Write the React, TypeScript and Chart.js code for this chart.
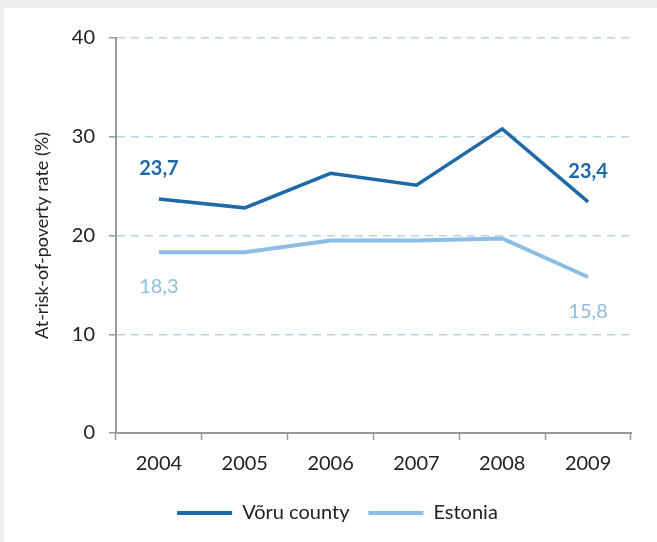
import React, { useEffect, useRef } from "react";
import { Chart, registerables } from "chart.js";

Chart.register(...registerables);

const years = ["2004", "2005", "2006", "2007", "2008", "2009"];
const voruValues = [23.7, 22.8, 26.3, 25.1, 30.8, 23.4];
const estoniaValues = [18.3, 18.3, 19.5, 19.5, 19.7, 15.8];
const seriesNames = ["Võru county", "Estonia"];
const yTicks = [0, 10, 20, 30, 40];

const DARK = "#1f69a8";
const LIGHT = "#8cbde3";
const FONT = "Lato, 'Open Sans', sans-serif";

const endLabels = {
  id: "endLabels",
  afterDatasetsDraw(chart: any) {
    const ctx = chart.ctx;
    chart.data.datasets.forEach((ds: any, di: number) => {
      const meta = chart.getDatasetMeta(di);
      const n = ds.data.length;
      [0, n - 1].forEach((i) => {
        const pt = meta.data[i];
        if (!pt) return;
        const v = ds.data[i];
        const txt = String(v.toFixed(1)).replace(".", ",");
        ctx.save();
        ctx.font = (di === 0 ? "bold " : "") + "20px " + FONT;
        ctx.fillStyle = di === 0 ? DARK : LIGHT;
        ctx.textAlign = "center";
        ctx.textBaseline = "middle";
        const dy = di === 0 ? -30.5 : 34.5;
        ctx.fillText(txt, pt.x, pt.y + dy);
        ctx.restore();
      });
    });
  },
};

const legendShift = {
  id: "legendShift",
  afterUpdate(chart: any) {
    const lg = chart.legend;
    if (lg) {
      lg.left += 20;
      lg.right += 20;
    }
  },
};

export default function App() {
  const ref = useRef<HTMLCanvasElement>(null);
  useEffect(() => {
    if (!ref.current) return;
    const chart = new Chart(ref.current, {
      type: "line",
      data: {
        labels: years,
        datasets: [
          {
            label: seriesNames[0],
            data: voruValues,
            borderColor: DARK,
            backgroundColor: DARK,
            borderWidth: 3.5,
            pointRadius: 0,
            tension: 0,
          },
          {
            label: seriesNames[1],
            data: estoniaValues,
            borderColor: LIGHT,
            backgroundColor: LIGHT,
            borderWidth: 4,
            pointRadius: 0,
            tension: 0,
          },
        ],
      },
      options: {
        responsive: false,
        animation: false,
        layout: { padding: { left: 0, right: 26, top: 30, bottom: 9 } },
        plugins: {
          tooltip: { enabled: false },
          legend: {
            position: "bottom",
            labels: {
              boxWidth: 55,
              boxHeight: 4,
              padding: 19,
              color: "#222",
              font: { family: FONT, size: 20 },
              generateLabels: (c: any) =>
                c.data.datasets.map((d: any, i: number) => ({
                  text: d.label,
                  fillStyle: d.borderColor,
                  strokeStyle: d.borderColor,
                  lineWidth: 0,
                  hidden: false,
                  datasetIndex: i,
                  fontColor: "#222",
                })),
            },
          },
        },
        scales: {
          x: {
            offset: true,
            grid: {
              display: true,
              drawOnChartArea: false,
              offset: true,
              tickLength: 7,
              color: "#999",
              tickColor: "#999",
              tickWidth: 1.5,
            },
            border: { color: "#999", width: 2 },
            ticks: {
              color: "#222",
              font: { family: FONT, size: 20 },
              padding: 12,
              maxRotation: 0,
            },
            afterFit: (s: any) => {
              s.height = 51;
            },
          },
          y: {
            min: 0,
            max: 40,
            afterBuildTicks: (s: any) => {
              s.ticks = yTicks.map((v) => ({ value: v }));
            },
            grid: {
              color: (c: any) => (c.tick && c.tick.value === 0 ? "rgba(0,0,0,0)" : "#b3d5ee"),
              lineWidth: 1.5,
              tickLength: 7,
              tickColor: "#999",
              tickWidth: 1.5,
              tickBorderDash: [],
            },
            border: { color: "#999", width: 2, dash: [8, 6] as any },
            ticks: {
              color: "#222",
              font: { family: FONT, size: 20 },
              padding: 14,
            },
            title: {
              display: true,
              text: "At-risk-of-poverty rate (%)",
              color: "#222",
              font: { family: FONT, size: 18 },
              padding: { top: 27, bottom: 0 },
            },
            afterFit: (s: any) => {
              s.width = 112;
            },
          },
        },
      },
      plugins: [endLabels, legendShift],
    });
    return () => chart.destroy();
  }, []);

  return (
    <div style={{ position: "fixed", left: 0, top: 0, width: 657, height: 542, background: "#efefef" }}>
      <div style={{ position: "absolute", left: 4, top: 8, width: 653, height: 534, background: "#fff" }}>
        <canvas ref={ref} width={653} height={534} style={{ display: "block", width: 653, height: 534 }} />
      </div>
    </div>
  );
}
